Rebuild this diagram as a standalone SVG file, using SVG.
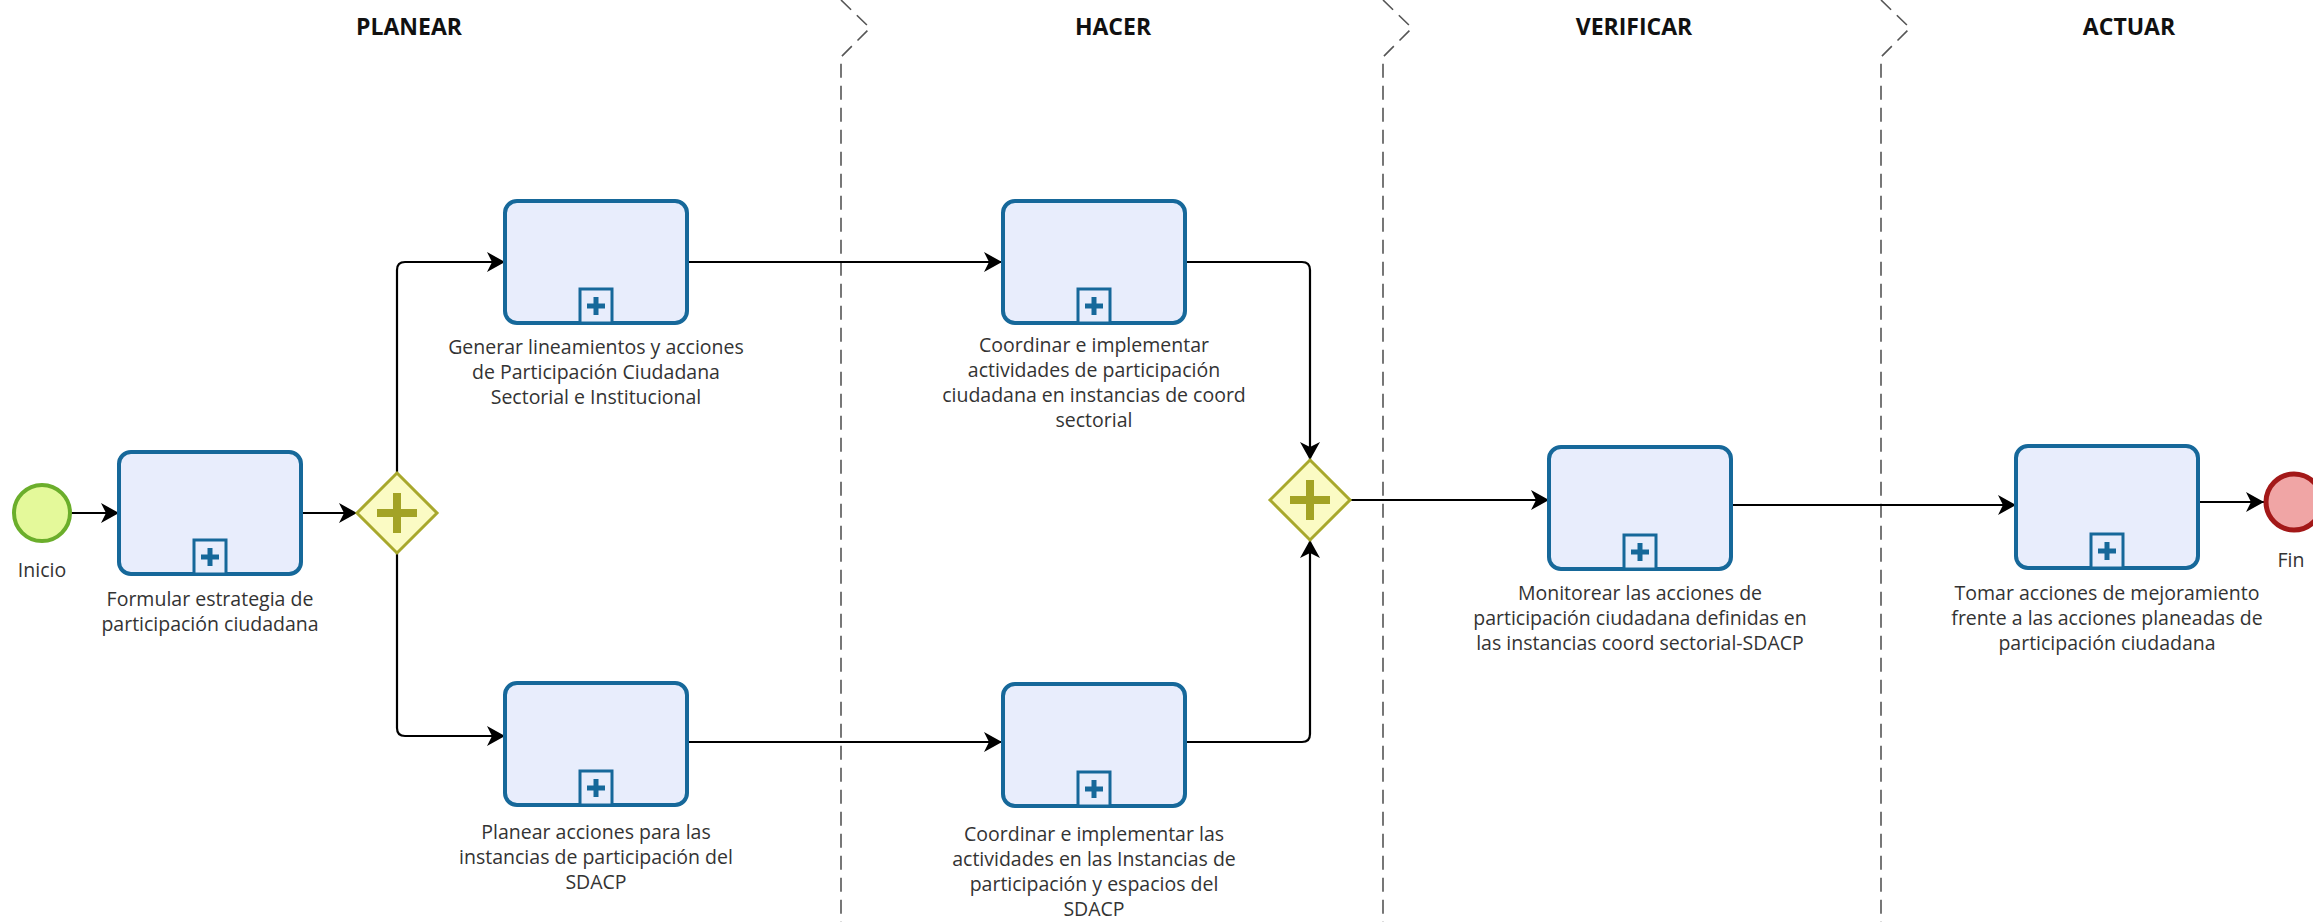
<svg xmlns="http://www.w3.org/2000/svg" width="2313" height="922" viewBox="0 0 2313 922">
<style>
.lane{fill:none;stroke:#555;stroke-width:1.6;stroke-dasharray:14 8}
.title{font-family:"Open Sans","Liberation Sans",sans-serif;font-weight:bold;font-size:23px;fill:#111;text-anchor:middle}
.lbl{font-family:"Open Sans","Liberation Sans",sans-serif;font-size:19.5px;fill:#333;text-anchor:middle}
.task{fill:#e8edfc;stroke:#16689a;stroke-width:4}
.mk{fill:#e8edfc;stroke:#16689a;stroke-width:3}
.mkp{fill:#16689a}
.gw{fill:#fbfbc4;stroke:#a8a82c;stroke-width:3}
.gwp{fill:#a3a326}
.flow{fill:none;stroke:#000;stroke-width:2.2;marker-end:url(#arr)}
</style>
<defs>
<marker id="arr" markerUnits="userSpaceOnUse" markerWidth="20" markerHeight="20" refX="18" refY="10" orient="auto" viewBox="0 0 20 20">
<path d="M0,0 L18,10 L0,20 L5,10 Z" fill="#000"/>
</marker>
<g id="sub">
<rect x="-16" y="-34" width="32" height="34" class="mk"/>
<rect x="-9" y="-19.5" width="18" height="5" class="mkp"/>
<rect x="-2.5" y="-26" width="5" height="18" class="mkp"/>
</g>
<g id="gplus">
<rect x="-20" y="-4" width="40" height="8" class="gwp"/>
<rect x="-4" y="-20" width="8" height="40" class="gwp"/>
</g>
</defs>
<rect width="2313" height="922" fill="#fff"/>

<g id="lanes">
<path class="lane" d="M841,0 L870,28 L841,57 V922"/>
<path class="lane" d="M1383,0 L1412,28 L1383,57 V922"/>
<path class="lane" d="M1881,0 L1910,28 L1881,57 V922"/>
<text class="title" x="409" y="35">PLANEAR</text>
<text class="title" x="1113" y="35">HACER</text>
<text class="title" x="1634" y="35">VERIFICAR</text>
<text class="title" x="2129" y="35">ACTUAR</text>
</g>

<g id="connectors">
<path class="flow" d="M71,513 H119"/>
<path class="flow" d="M301,513 H357"/>
<path class="flow" d="M397,473 V270 Q397,262 405,262 H505"/>
<path class="flow" d="M397,553 V728 Q397,736 405,736 H505"/>
<path class="flow" d="M687,262 H1002"/>
<path class="flow" d="M687,742 H1002"/>
<path class="flow" d="M1185,262 H1302 Q1310,262 1310,270 V460"/>
<path class="flow" d="M1185,742 H1302 Q1310,742 1310,734 V540"/>
<path class="flow" d="M1350,500 H1549"/>
<path class="flow" d="M1731,505 H2016"/>
<path class="flow" d="M2198,502 H2264"/>
</g>

<g id="start">
<circle cx="42" cy="513" r="28" fill="#e4f99a" stroke="#6bae2b" stroke-width="4"/>
<text class="lbl" x="42" y="577">Inicio</text>
</g>

<g id="t1">
<rect class="task" x="119" y="452" width="182" height="122" rx="12"/>
<use href="#sub" x="210" y="574"/>
<text class="lbl" x="210" y="606">Formular estrategia de</text>
<text class="lbl" x="210" y="631">participación ciudadana</text>
</g>

<g id="g1">
<path class="gw" d="M397,473 L437,513 L397,553 L357,513 Z"/>
<use href="#gplus" x="397" y="513"/>
</g>

<g id="t2">
<rect class="task" x="505" y="201" width="182" height="122" rx="12"/>
<use href="#sub" x="596" y="323"/>
<text class="lbl" x="596" y="354">Generar lineamientos y acciones</text>
<text class="lbl" x="596" y="379">de Participación Ciudadana</text>
<text class="lbl" x="596" y="404">Sectorial e Institucional</text>
</g>

<g id="t3">
<rect class="task" x="505" y="683" width="182" height="122" rx="12"/>
<use href="#sub" x="596" y="805"/>
<text class="lbl" x="596" y="839">Planear acciones para las</text>
<text class="lbl" x="596" y="864">instancias de participación del</text>
<text class="lbl" x="596" y="889">SDACP</text>
</g>

<g id="t4">
<rect class="task" x="1003" y="201" width="182" height="122" rx="12"/>
<use href="#sub" x="1094" y="323"/>
<text class="lbl" x="1094" y="352">Coordinar e implementar</text>
<text class="lbl" x="1094" y="377">actividades de participación</text>
<text class="lbl" x="1094" y="402">ciudadana en instancias de coord</text>
<text class="lbl" x="1094" y="427">sectorial</text>
</g>

<g id="t5">
<rect class="task" x="1003" y="684" width="182" height="122" rx="12"/>
<use href="#sub" x="1094" y="806"/>
<text class="lbl" x="1094" y="841">Coordinar e implementar las</text>
<text class="lbl" x="1094" y="866">actividades en las Instancias de</text>
<text class="lbl" x="1094" y="891">participación y espacios del</text>
<text class="lbl" x="1094" y="916">SDACP</text>
</g>

<g id="g2">
<path class="gw" d="M1310,460 L1350,500 L1310,540 L1270,500 Z"/>
<use href="#gplus" x="1310" y="500"/>
</g>

<g id="t6">
<rect class="task" x="1549" y="447" width="182" height="122" rx="12"/>
<use href="#sub" x="1640" y="569"/>
<text class="lbl" x="1640" y="600">Monitorear las acciones de</text>
<text class="lbl" x="1640" y="625">participación ciudadana definidas en</text>
<text class="lbl" x="1640" y="650">las instancias coord sectorial-SDACP</text>
</g>

<g id="t7">
<rect class="task" x="2016" y="446" width="182" height="122" rx="12"/>
<use href="#sub" x="2107" y="568"/>
<text class="lbl" x="2107" y="600">Tomar acciones de mejoramiento</text>
<text class="lbl" x="2107" y="625">frente a las acciones planeadas de</text>
<text class="lbl" x="2107" y="650">participación ciudadana</text>
</g>

<g id="end">
<circle cx="2294" cy="502" r="28" fill="#f0a5a5" stroke="#a31818" stroke-width="5"/>
<text class="lbl" x="2291" y="567">Fin</text>
</g>
</svg>
